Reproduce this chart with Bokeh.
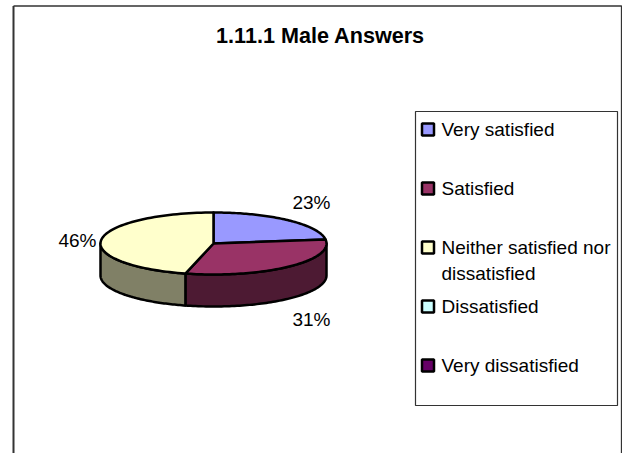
import numpy as np
from bokeh.plotting import figure
from bokeh.models import Range1d
from bokeh.core.properties import value
from bokeh.embed import file_html
from bokeh.resources import INLINE

title = "1.11.1 Male Answers"
categories = ["Very satisfied", "Satisfied", "Neither satisfied nor\ndissatisfied", "Dissatisfied", "Very dissatisfied"]
shares = [23, 31, 46, 0, 0]
colors = ["#9999FF", "#993366", "#FFFFCC", "#CCFFFF", "#660066"]
side_colors = ["#4D4D80", "#4D1A33", "#808066", "#668080", "#330033"]

W, H = 622, 453
FONT = value("Liberation Sans")
cx, cy, rx, ry, depth = 213, 243, 113, 31, 32

p = figure(width=W, height=H, x_range=Range1d(0, W), y_range=Range1d(H, 0),
           output_backend="svg", toolbar_location=None, min_border=0, margin=0)
p.xaxis.visible = False
p.yaxis.visible = False
p.xgrid.visible = False
p.ygrid.visible = False
p.outline_line_color = None
p.background_fill_color = "white"

# outer chart frame, open at the bottom
p.line([13, 13], [H, 5.5], line_color="#333333", line_width=2)
p.line([13, 621, 621], [5.5, 5.5, H], line_color="#333333", line_width=1.3)

def arc(a0, a1):
    t = np.radians(np.linspace(a0, a1, 80))
    return cx + rx * np.sin(t), cy - ry * np.cos(t)

edges = np.cumsum([0] + shares) / sum(shares) * 360
# side walls: only the front half of the cylinder shows
for i, s in enumerate(shares):
    a0, a1 = max(edges[i], 90), min(edges[i + 1], 270)
    if s == 0 or a1 <= a0:
        continue
    x, y = arc(a0, a1)
    p.patch(np.r_[x, x[::-1]], np.r_[y, y[::-1] + depth], fill_color=side_colors[i],
            line_color="black", line_width=2.5, line_join="round")
# top faces
for i, s in enumerate(shares):
    if s == 0:
        continue
    x, y = arc(edges[i], edges[i + 1])
    p.patch(np.r_[cx, x], np.r_[cy, y], fill_color=colors[i],
            line_color="black", line_width=2.5, line_join="round")

# title and slice labels
p.text([320], [35], text=[title], text_font=FONT, text_font_size="21.6px", text_font_style="bold",
       text_align="center", text_baseline="middle", text_color="black")
label_x, label_y = [311, 311, 77], [202, 319, 240]
p.text(label_x, label_y, text=[f"{s}%" for s in shares[:3]], text_font=FONT, text_font_size="19px",
       text_align="center", text_baseline="middle", text_color="black")

# legend
p.quad(left=[415], right=[617], top=[111], bottom=[405], fill_color="white",
       line_color="#333333", line_width=1.2)
swatch_y = [129, 188, 247, 306, 365]
p.quad(left=[421.5] * 5, right=[433.5] * 5, top=[y - 6 for y in swatch_y], bottom=[y + 6 for y in swatch_y],
       fill_color=colors, line_color="black", line_width=2.5)
for name, y in zip(categories, swatch_y):
    for j, line in enumerate(name.split("\n")):
        p.text([441], [y + 26 * j], text=[line], text_font=FONT, text_font_size="19px",
               text_align="left", text_baseline="middle", text_color="black")

open("out.html", "w").write(file_html(p, INLINE))
